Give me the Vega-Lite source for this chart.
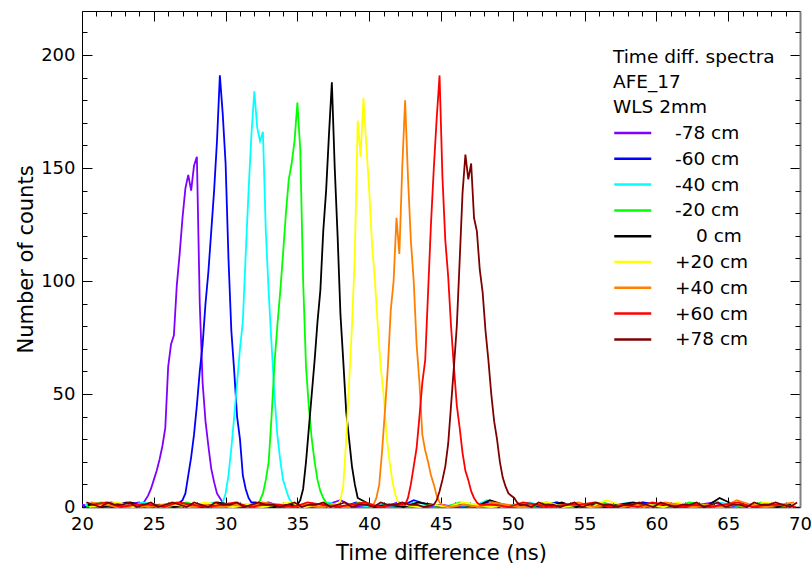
{
"$schema":"https://vega.github.io/schema/vega-lite/v6.json",
"width":718,"height":496,
"autosize":{"type":"none"},
"padding":{"left":82,"top":11,"right":12,"bottom":65},
"background":"white",
"config":{"view":{"stroke":null},"font":"DejaVu Sans","axis":{"grid":false}},
"data":{"values":[
{"p":"-78 cm","t":20,"n":1},{"p":"-78 cm","t":21,"n":0},{"p":"-78 cm","t":22,"n":2},{"p":"-78 cm","t":23,"n":1},
{"p":"-78 cm","t":24.0,"n":2},{"p":"-78 cm","t":24.2,"n":1},{"p":"-78 cm","t":24.4,"n":3},{"p":"-78 cm","t":24.6,"n":5},{"p":"-78 cm","t":24.8,"n":8},{"p":"-78 cm","t":25.0,"n":12},{"p":"-78 cm","t":25.2,"n":16},{"p":"-78 cm","t":25.4,"n":21},{"p":"-78 cm","t":25.6,"n":27},{"p":"-78 cm","t":25.8,"n":35},{"p":"-78 cm","t":26.0,"n":62},{"p":"-78 cm","t":26.2,"n":72},{"p":"-78 cm","t":26.4,"n":76},{"p":"-78 cm","t":26.6,"n":98},{"p":"-78 cm","t":26.8,"n":112},{"p":"-78 cm","t":27.0,"n":128},{"p":"-78 cm","t":27.2,"n":141},{"p":"-78 cm","t":27.4,"n":147},{"p":"-78 cm","t":27.6,"n":140},{"p":"-78 cm","t":27.8,"n":151},{"p":"-78 cm","t":28.0,"n":155},{"p":"-78 cm","t":28.2,"n":90},{"p":"-78 cm","t":28.4,"n":55},{"p":"-78 cm","t":28.6,"n":38},{"p":"-78 cm","t":28.8,"n":27},{"p":"-78 cm","t":29.0,"n":17},{"p":"-78 cm","t":29.2,"n":11},{"p":"-78 cm","t":29.4,"n":6},{"p":"-78 cm","t":29.6,"n":4},{"p":"-78 cm","t":29.8,"n":2},
{"p":"-78 cm","t":30,"n":1},{"p":"-78 cm","t":31,"n":0},{"p":"-78 cm","t":32,"n":1},{"p":"-78 cm","t":33,"n":2},{"p":"-78 cm","t":34,"n":0},{"p":"-78 cm","t":35,"n":1},{"p":"-78 cm","t":36,"n":0},{"p":"-78 cm","t":37,"n":1},{"p":"-78 cm","t":38,"n":3},{"p":"-78 cm","t":39,"n":0},{"p":"-78 cm","t":40,"n":1},{"p":"-78 cm","t":41,"n":0},{"p":"-78 cm","t":42,"n":2},{"p":"-78 cm","t":43,"n":1},{"p":"-78 cm","t":44,"n":0},{"p":"-78 cm","t":45,"n":1},{"p":"-78 cm","t":46,"n":0},{"p":"-78 cm","t":47,"n":0},{"p":"-78 cm","t":48,"n":2},{"p":"-78 cm","t":49,"n":1},{"p":"-78 cm","t":50,"n":0},{"p":"-78 cm","t":51,"n":1},{"p":"-78 cm","t":52,"n":0},{"p":"-78 cm","t":53,"n":2},{"p":"-78 cm","t":54,"n":1},{"p":"-78 cm","t":55,"n":0},{"p":"-78 cm","t":56,"n":1},{"p":"-78 cm","t":57,"n":1},{"p":"-78 cm","t":58,"n":0},{"p":"-78 cm","t":59,"n":2},{"p":"-78 cm","t":60,"n":0},{"p":"-78 cm","t":61,"n":1},{"p":"-78 cm","t":62,"n":0},{"p":"-78 cm","t":63,"n":1},{"p":"-78 cm","t":64,"n":2},{"p":"-78 cm","t":65,"n":0},{"p":"-78 cm","t":66,"n":1},{"p":"-78 cm","t":67,"n":0},{"p":"-78 cm","t":68,"n":1},{"p":"-78 cm","t":69,"n":0},
{"p":"-60 cm","t":20.1,"n":0},{"p":"-60 cm","t":21.1,"n":1},{"p":"-60 cm","t":22.1,"n":0},{"p":"-60 cm","t":23.1,"n":2},{"p":"-60 cm","t":24.1,"n":1},{"p":"-60 cm","t":25.1,"n":0},{"p":"-60 cm","t":26.1,"n":1},
{"p":"-60 cm","t":26.6,"n":1},{"p":"-60 cm","t":26.8,"n":2},{"p":"-60 cm","t":27.0,"n":3},{"p":"-60 cm","t":27.2,"n":6},{"p":"-60 cm","t":27.4,"n":14},{"p":"-60 cm","t":27.6,"n":22},{"p":"-60 cm","t":27.8,"n":32},{"p":"-60 cm","t":28.0,"n":45},{"p":"-60 cm","t":28.2,"n":60},{"p":"-60 cm","t":28.4,"n":72},{"p":"-60 cm","t":28.6,"n":90},{"p":"-60 cm","t":28.8,"n":104},{"p":"-60 cm","t":29.0,"n":122},{"p":"-60 cm","t":29.2,"n":140},{"p":"-60 cm","t":29.4,"n":162},{"p":"-60 cm","t":29.6,"n":191},{"p":"-60 cm","t":29.8,"n":174},{"p":"-60 cm","t":30.0,"n":152},{"p":"-60 cm","t":30.2,"n":110},{"p":"-60 cm","t":30.4,"n":78},{"p":"-60 cm","t":30.6,"n":60},{"p":"-60 cm","t":30.8,"n":40},{"p":"-60 cm","t":31.0,"n":30},{"p":"-60 cm","t":31.2,"n":14},{"p":"-60 cm","t":31.4,"n":8},{"p":"-60 cm","t":31.6,"n":4},{"p":"-60 cm","t":31.8,"n":2},
{"p":"-60 cm","t":32.1,"n":2},{"p":"-60 cm","t":33.1,"n":0},{"p":"-60 cm","t":34.1,"n":1},{"p":"-60 cm","t":35.1,"n":0},{"p":"-60 cm","t":36.1,"n":1},{"p":"-60 cm","t":37.1,"n":1},{"p":"-60 cm","t":38.1,"n":0},{"p":"-60 cm","t":39.1,"n":2},{"p":"-60 cm","t":40.1,"n":0},{"p":"-60 cm","t":41.1,"n":1},{"p":"-60 cm","t":42.1,"n":0},{"p":"-60 cm","t":43.1,"n":3},{"p":"-60 cm","t":44.1,"n":1},{"p":"-60 cm","t":45.1,"n":0},{"p":"-60 cm","t":46.1,"n":1},{"p":"-60 cm","t":47.1,"n":0},{"p":"-60 cm","t":48.1,"n":2},{"p":"-60 cm","t":49.1,"n":0},{"p":"-60 cm","t":50.1,"n":1},{"p":"-60 cm","t":51.1,"n":0},{"p":"-60 cm","t":52.1,"n":1},{"p":"-60 cm","t":53.1,"n":2},{"p":"-60 cm","t":54.1,"n":0},{"p":"-60 cm","t":55.1,"n":1},{"p":"-60 cm","t":56.1,"n":0},{"p":"-60 cm","t":57.1,"n":0},{"p":"-60 cm","t":58.1,"n":1},{"p":"-60 cm","t":59.1,"n":2},{"p":"-60 cm","t":60.1,"n":1},{"p":"-60 cm","t":61.1,"n":0},{"p":"-60 cm","t":62.1,"n":1},{"p":"-60 cm","t":63.1,"n":0},{"p":"-60 cm","t":64.1,"n":2},{"p":"-60 cm","t":65.1,"n":1},{"p":"-60 cm","t":66.1,"n":0},{"p":"-60 cm","t":67.1,"n":1},{"p":"-60 cm","t":68.1,"n":0},{"p":"-60 cm","t":69.1,"n":1},
{"p":"-40 cm","t":20.2,"n":1},{"p":"-40 cm","t":21.2,"n":0},{"p":"-40 cm","t":22.2,"n":1},{"p":"-40 cm","t":23.2,"n":0},{"p":"-40 cm","t":24.2,"n":2},{"p":"-40 cm","t":25.2,"n":1},{"p":"-40 cm","t":26.2,"n":0},{"p":"-40 cm","t":27.2,"n":1},{"p":"-40 cm","t":28.2,"n":0},{"p":"-40 cm","t":29.2,"n":2},
{"p":"-40 cm","t":29.6,"n":1},{"p":"-40 cm","t":29.8,"n":2},{"p":"-40 cm","t":30.0,"n":6},{"p":"-40 cm","t":30.2,"n":14},{"p":"-40 cm","t":30.4,"n":26},{"p":"-40 cm","t":30.6,"n":40},{"p":"-40 cm","t":30.8,"n":55},{"p":"-40 cm","t":31.0,"n":70},{"p":"-40 cm","t":31.2,"n":82},{"p":"-40 cm","t":31.4,"n":112},{"p":"-40 cm","t":31.6,"n":140},{"p":"-40 cm","t":31.8,"n":165},{"p":"-40 cm","t":32.0,"n":184},{"p":"-40 cm","t":32.2,"n":168},{"p":"-40 cm","t":32.4,"n":162},{"p":"-40 cm","t":32.6,"n":166},{"p":"-40 cm","t":32.8,"n":122},{"p":"-40 cm","t":33.0,"n":95},{"p":"-40 cm","t":33.2,"n":72},{"p":"-40 cm","t":33.4,"n":50},{"p":"-40 cm","t":33.6,"n":32},{"p":"-40 cm","t":33.8,"n":21},{"p":"-40 cm","t":34.0,"n":12},{"p":"-40 cm","t":34.2,"n":8},{"p":"-40 cm","t":34.4,"n":4},{"p":"-40 cm","t":34.6,"n":2},{"p":"-40 cm","t":34.8,"n":1},
{"p":"-40 cm","t":35.2,"n":0},{"p":"-40 cm","t":36.2,"n":1},{"p":"-40 cm","t":37.2,"n":2},{"p":"-40 cm","t":38.2,"n":0},{"p":"-40 cm","t":39.2,"n":1},{"p":"-40 cm","t":40.2,"n":0},{"p":"-40 cm","t":41.2,"n":1},{"p":"-40 cm","t":42.2,"n":0},{"p":"-40 cm","t":43.2,"n":2},{"p":"-40 cm","t":44.2,"n":1},{"p":"-40 cm","t":45.2,"n":0},{"p":"-40 cm","t":46.2,"n":1},{"p":"-40 cm","t":47.2,"n":0},{"p":"-40 cm","t":48.2,"n":3},{"p":"-40 cm","t":49.2,"n":0},{"p":"-40 cm","t":50.2,"n":1},{"p":"-40 cm","t":51.2,"n":2},{"p":"-40 cm","t":52.2,"n":0},{"p":"-40 cm","t":53.2,"n":1},{"p":"-40 cm","t":54.2,"n":0},{"p":"-40 cm","t":55.2,"n":1},{"p":"-40 cm","t":56.2,"n":0},{"p":"-40 cm","t":57.2,"n":1},{"p":"-40 cm","t":58.2,"n":2},{"p":"-40 cm","t":59.2,"n":0},{"p":"-40 cm","t":60.2,"n":1},{"p":"-40 cm","t":61.2,"n":0},{"p":"-40 cm","t":62.2,"n":1},{"p":"-40 cm","t":63.2,"n":0},{"p":"-40 cm","t":64.2,"n":2},{"p":"-40 cm","t":65.2,"n":1},{"p":"-40 cm","t":66.2,"n":0},{"p":"-40 cm","t":67.2,"n":1},{"p":"-40 cm","t":68.2,"n":0},{"p":"-40 cm","t":69.2,"n":1},
{"p":"-20 cm","t":20.3,"n":0},{"p":"-20 cm","t":21.3,"n":2},{"p":"-20 cm","t":22.3,"n":1},{"p":"-20 cm","t":23.3,"n":0},{"p":"-20 cm","t":24.3,"n":1},{"p":"-20 cm","t":25.3,"n":0},{"p":"-20 cm","t":26.3,"n":1},{"p":"-20 cm","t":27.3,"n":2},{"p":"-20 cm","t":28.3,"n":0},{"p":"-20 cm","t":29.3,"n":1},{"p":"-20 cm","t":30.3,"n":0},{"p":"-20 cm","t":31.3,"n":1},
{"p":"-20 cm","t":32.2,"n":1},{"p":"-20 cm","t":32.4,"n":3},{"p":"-20 cm","t":32.6,"n":6},{"p":"-20 cm","t":32.8,"n":12},{"p":"-20 cm","t":33.0,"n":20},{"p":"-20 cm","t":33.2,"n":40},{"p":"-20 cm","t":33.4,"n":63},{"p":"-20 cm","t":33.6,"n":80},{"p":"-20 cm","t":33.8,"n":95},{"p":"-20 cm","t":34.0,"n":112},{"p":"-20 cm","t":34.2,"n":130},{"p":"-20 cm","t":34.4,"n":145},{"p":"-20 cm","t":34.6,"n":152},{"p":"-20 cm","t":34.8,"n":162},{"p":"-20 cm","t":35.0,"n":179},{"p":"-20 cm","t":35.2,"n":158},{"p":"-20 cm","t":35.4,"n":100},{"p":"-20 cm","t":35.6,"n":62},{"p":"-20 cm","t":35.8,"n":44},{"p":"-20 cm","t":36.0,"n":30},{"p":"-20 cm","t":36.2,"n":20},{"p":"-20 cm","t":36.4,"n":12},{"p":"-20 cm","t":36.6,"n":7},{"p":"-20 cm","t":36.8,"n":4},{"p":"-20 cm","t":37.0,"n":2},
{"p":"-20 cm","t":37.3,"n":1},{"p":"-20 cm","t":38.3,"n":0},{"p":"-20 cm","t":39.3,"n":2},{"p":"-20 cm","t":40.3,"n":0},{"p":"-20 cm","t":41.3,"n":1},{"p":"-20 cm","t":42.3,"n":1},{"p":"-20 cm","t":43.3,"n":0},{"p":"-20 cm","t":44.3,"n":1},{"p":"-20 cm","t":45.3,"n":0},{"p":"-20 cm","t":46.3,"n":2},{"p":"-20 cm","t":47.3,"n":1},{"p":"-20 cm","t":48.3,"n":0},{"p":"-20 cm","t":49.3,"n":1},{"p":"-20 cm","t":50.3,"n":0},{"p":"-20 cm","t":51.3,"n":0},{"p":"-20 cm","t":52.3,"n":2},{"p":"-20 cm","t":53.3,"n":1},{"p":"-20 cm","t":54.3,"n":0},{"p":"-20 cm","t":55.3,"n":1},{"p":"-20 cm","t":56.3,"n":2},{"p":"-20 cm","t":57.3,"n":0},{"p":"-20 cm","t":58.3,"n":1},{"p":"-20 cm","t":59.3,"n":0},{"p":"-20 cm","t":60.3,"n":1},{"p":"-20 cm","t":61.3,"n":0},{"p":"-20 cm","t":62.3,"n":2},{"p":"-20 cm","t":63.3,"n":1},{"p":"-20 cm","t":64.3,"n":0},{"p":"-20 cm","t":65.3,"n":1},{"p":"-20 cm","t":66.3,"n":0},{"p":"-20 cm","t":67.3,"n":2},{"p":"-20 cm","t":68.3,"n":0},{"p":"-20 cm","t":69.3,"n":1},
{"p":"0 cm","t":20.4,"n":1},{"p":"0 cm","t":21.4,"n":0},{"p":"0 cm","t":22.4,"n":1},{"p":"0 cm","t":23.4,"n":2},{"p":"0 cm","t":24.4,"n":0},{"p":"0 cm","t":25.4,"n":1},{"p":"0 cm","t":26.4,"n":0},{"p":"0 cm","t":27.4,"n":1},{"p":"0 cm","t":28.4,"n":0},{"p":"0 cm","t":29.4,"n":2},{"p":"0 cm","t":30.4,"n":1},{"p":"0 cm","t":31.4,"n":0},{"p":"0 cm","t":32.4,"n":1},{"p":"0 cm","t":33.4,"n":0},{"p":"0 cm","t":34.4,"n":1},
{"p":"0 cm","t":35.0,"n":1},{"p":"0 cm","t":35.2,"n":3},{"p":"0 cm","t":35.4,"n":8},{"p":"0 cm","t":35.6,"n":20},{"p":"0 cm","t":35.8,"n":35},{"p":"0 cm","t":36.0,"n":50},{"p":"0 cm","t":36.2,"n":65},{"p":"0 cm","t":36.4,"n":82},{"p":"0 cm","t":36.6,"n":96},{"p":"0 cm","t":36.8,"n":122},{"p":"0 cm","t":37.0,"n":140},{"p":"0 cm","t":37.2,"n":165},{"p":"0 cm","t":37.4,"n":188},{"p":"0 cm","t":37.6,"n":150},{"p":"0 cm","t":37.8,"n":120},{"p":"0 cm","t":38.0,"n":85},{"p":"0 cm","t":38.2,"n":64},{"p":"0 cm","t":38.4,"n":42},{"p":"0 cm","t":38.6,"n":30},{"p":"0 cm","t":38.8,"n":18},{"p":"0 cm","t":39.0,"n":10},{"p":"0 cm","t":39.2,"n":4},
{"p":"0 cm","t":40.4,"n":0},{"p":"0 cm","t":41.4,"n":1},{"p":"0 cm","t":42.4,"n":0},{"p":"0 cm","t":43.4,"n":2},{"p":"0 cm","t":44.4,"n":1},{"p":"0 cm","t":45.4,"n":0},{"p":"0 cm","t":46.4,"n":1},{"p":"0 cm","t":47.4,"n":0},{"p":"0 cm","t":48.4,"n":3},{"p":"0 cm","t":49.4,"n":1},{"p":"0 cm","t":50.4,"n":0},{"p":"0 cm","t":51.4,"n":1},{"p":"0 cm","t":52.4,"n":0},{"p":"0 cm","t":53.4,"n":2},{"p":"0 cm","t":54.4,"n":0},{"p":"0 cm","t":55.4,"n":1},{"p":"0 cm","t":56.4,"n":0},{"p":"0 cm","t":57.4,"n":1},{"p":"0 cm","t":58.4,"n":2},{"p":"0 cm","t":59.4,"n":0},{"p":"0 cm","t":60.4,"n":1},{"p":"0 cm","t":61.4,"n":0},{"p":"0 cm","t":62.4,"n":1},{"p":"0 cm","t":63.4,"n":0},{"p":"0 cm","t":64.4,"n":4},{"p":"0 cm","t":65.4,"n":1},{"p":"0 cm","t":66.4,"n":0},{"p":"0 cm","t":67.4,"n":1},{"p":"0 cm","t":68.4,"n":0},{"p":"0 cm","t":69.4,"n":1},
{"p":"+20 cm","t":20.5,"n":0},{"p":"+20 cm","t":21.5,"n":1},{"p":"+20 cm","t":22.5,"n":2},{"p":"+20 cm","t":23.5,"n":0},{"p":"+20 cm","t":24.5,"n":1},{"p":"+20 cm","t":25.5,"n":0},{"p":"+20 cm","t":26.5,"n":1},{"p":"+20 cm","t":27.5,"n":0},{"p":"+20 cm","t":28.5,"n":2},{"p":"+20 cm","t":29.5,"n":1},{"p":"+20 cm","t":30.5,"n":0},{"p":"+20 cm","t":31.5,"n":1},{"p":"+20 cm","t":32.5,"n":0},{"p":"+20 cm","t":33.5,"n":1},{"p":"+20 cm","t":34.5,"n":2},{"p":"+20 cm","t":35.5,"n":0},{"p":"+20 cm","t":36.5,"n":1},{"p":"+20 cm","t":37.5,"n":0},
{"p":"+20 cm","t":37.8,"n":1},{"p":"+20 cm","t":38.0,"n":3},{"p":"+20 cm","t":38.2,"n":10},{"p":"+20 cm","t":38.4,"n":30},{"p":"+20 cm","t":38.6,"n":55},{"p":"+20 cm","t":38.8,"n":80},{"p":"+20 cm","t":39.0,"n":112},{"p":"+20 cm","t":39.2,"n":171},{"p":"+20 cm","t":39.4,"n":155},{"p":"+20 cm","t":39.6,"n":181},{"p":"+20 cm","t":39.8,"n":160},{"p":"+20 cm","t":40.0,"n":140},{"p":"+20 cm","t":40.2,"n":116},{"p":"+20 cm","t":40.4,"n":100},{"p":"+20 cm","t":40.6,"n":80},{"p":"+20 cm","t":40.8,"n":62},{"p":"+20 cm","t":41.0,"n":50},{"p":"+20 cm","t":41.2,"n":32},{"p":"+20 cm","t":41.4,"n":21},{"p":"+20 cm","t":41.6,"n":12},{"p":"+20 cm","t":41.8,"n":6},{"p":"+20 cm","t":42.0,"n":2},{"p":"+20 cm","t":42.2,"n":1},
{"p":"+20 cm","t":42.5,"n":1},{"p":"+20 cm","t":43.5,"n":0},{"p":"+20 cm","t":44.5,"n":1},{"p":"+20 cm","t":45.5,"n":0},{"p":"+20 cm","t":46.5,"n":2},{"p":"+20 cm","t":47.5,"n":1},{"p":"+20 cm","t":48.5,"n":0},{"p":"+20 cm","t":49.5,"n":1},{"p":"+20 cm","t":50.5,"n":0},{"p":"+20 cm","t":51.5,"n":1},{"p":"+20 cm","t":52.5,"n":2},{"p":"+20 cm","t":53.5,"n":0},{"p":"+20 cm","t":54.5,"n":1},{"p":"+20 cm","t":55.5,"n":0},{"p":"+20 cm","t":56.5,"n":3},{"p":"+20 cm","t":57.5,"n":1},{"p":"+20 cm","t":58.5,"n":0},{"p":"+20 cm","t":59.5,"n":1},{"p":"+20 cm","t":60.5,"n":0},{"p":"+20 cm","t":61.5,"n":2},{"p":"+20 cm","t":62.5,"n":0},{"p":"+20 cm","t":63.5,"n":1},{"p":"+20 cm","t":64.5,"n":0},{"p":"+20 cm","t":65.5,"n":1},{"p":"+20 cm","t":66.5,"n":0},{"p":"+20 cm","t":67.5,"n":2},{"p":"+20 cm","t":68.5,"n":1},{"p":"+20 cm","t":69.5,"n":0},
{"p":"+40 cm","t":20.6,"n":2},{"p":"+40 cm","t":21.6,"n":1},{"p":"+40 cm","t":22.6,"n":0},{"p":"+40 cm","t":23.6,"n":1},{"p":"+40 cm","t":24.6,"n":0},{"p":"+40 cm","t":25.6,"n":1},{"p":"+40 cm","t":26.6,"n":2},{"p":"+40 cm","t":27.6,"n":0},{"p":"+40 cm","t":28.6,"n":1},{"p":"+40 cm","t":29.6,"n":0},{"p":"+40 cm","t":30.6,"n":1},{"p":"+40 cm","t":31.6,"n":0},{"p":"+40 cm","t":32.6,"n":2},{"p":"+40 cm","t":33.6,"n":1},{"p":"+40 cm","t":34.6,"n":0},{"p":"+40 cm","t":35.6,"n":1},{"p":"+40 cm","t":36.6,"n":0},{"p":"+40 cm","t":37.6,"n":1},{"p":"+40 cm","t":38.6,"n":0},{"p":"+40 cm","t":39.6,"n":2},
{"p":"+40 cm","t":40.3,"n":1},{"p":"+40 cm","t":40.5,"n":4},{"p":"+40 cm","t":40.7,"n":10},{"p":"+40 cm","t":40.9,"n":25},{"p":"+40 cm","t":41.1,"n":43},{"p":"+40 cm","t":41.3,"n":62},{"p":"+40 cm","t":41.5,"n":87},{"p":"+40 cm","t":41.7,"n":100},{"p":"+40 cm","t":41.9,"n":128},{"p":"+40 cm","t":42.1,"n":112},{"p":"+40 cm","t":42.3,"n":150},{"p":"+40 cm","t":42.5,"n":180},{"p":"+40 cm","t":42.7,"n":146},{"p":"+40 cm","t":42.9,"n":118},{"p":"+40 cm","t":43.1,"n":100},{"p":"+40 cm","t":43.3,"n":72},{"p":"+40 cm","t":43.5,"n":55},{"p":"+40 cm","t":43.7,"n":32},{"p":"+40 cm","t":43.9,"n":25},{"p":"+40 cm","t":44.1,"n":20},{"p":"+40 cm","t":44.3,"n":14},{"p":"+40 cm","t":44.5,"n":10},{"p":"+40 cm","t":44.7,"n":5},{"p":"+40 cm","t":44.9,"n":2},{"p":"+40 cm","t":45.1,"n":1},
{"p":"+40 cm","t":45.6,"n":0},{"p":"+40 cm","t":46.6,"n":1},{"p":"+40 cm","t":47.6,"n":0},{"p":"+40 cm","t":48.6,"n":2},{"p":"+40 cm","t":49.6,"n":1},{"p":"+40 cm","t":50.6,"n":0},{"p":"+40 cm","t":51.6,"n":1},{"p":"+40 cm","t":52.6,"n":0},{"p":"+40 cm","t":53.6,"n":1},{"p":"+40 cm","t":54.6,"n":2},{"p":"+40 cm","t":55.6,"n":0},{"p":"+40 cm","t":56.6,"n":1},{"p":"+40 cm","t":57.6,"n":0},{"p":"+40 cm","t":58.6,"n":1},{"p":"+40 cm","t":59.6,"n":0},{"p":"+40 cm","t":60.6,"n":2},{"p":"+40 cm","t":61.6,"n":1},{"p":"+40 cm","t":62.6,"n":0},{"p":"+40 cm","t":63.6,"n":1},{"p":"+40 cm","t":64.6,"n":0},{"p":"+40 cm","t":65.6,"n":3},{"p":"+40 cm","t":66.6,"n":1},{"p":"+40 cm","t":67.6,"n":0},{"p":"+40 cm","t":68.6,"n":1},{"p":"+40 cm","t":69.6,"n":2},
{"p":"+60 cm","t":20.7,"n":1},{"p":"+60 cm","t":21.7,"n":2},{"p":"+60 cm","t":22.7,"n":0},{"p":"+60 cm","t":23.7,"n":1},{"p":"+60 cm","t":24.7,"n":1},{"p":"+60 cm","t":25.7,"n":0},{"p":"+60 cm","t":26.7,"n":2},{"p":"+60 cm","t":27.7,"n":1},{"p":"+60 cm","t":28.7,"n":0},{"p":"+60 cm","t":29.7,"n":1},{"p":"+60 cm","t":30.7,"n":2},{"p":"+60 cm","t":31.7,"n":0},{"p":"+60 cm","t":32.7,"n":1},{"p":"+60 cm","t":33.7,"n":1},{"p":"+60 cm","t":34.7,"n":0},{"p":"+60 cm","t":35.7,"n":2},{"p":"+60 cm","t":36.7,"n":1},{"p":"+60 cm","t":37.7,"n":0},{"p":"+60 cm","t":38.7,"n":1},{"p":"+60 cm","t":39.7,"n":2},{"p":"+60 cm","t":40.7,"n":0},{"p":"+60 cm","t":41.7,"n":1},
{"p":"+60 cm","t":42.5,"n":1},{"p":"+60 cm","t":42.7,"n":4},{"p":"+60 cm","t":42.9,"n":10},{"p":"+60 cm","t":43.1,"n":18},{"p":"+60 cm","t":43.3,"n":26},{"p":"+60 cm","t":43.5,"n":40},{"p":"+60 cm","t":43.7,"n":55},{"p":"+60 cm","t":43.9,"n":65},{"p":"+60 cm","t":44.1,"n":95},{"p":"+60 cm","t":44.3,"n":125},{"p":"+60 cm","t":44.5,"n":150},{"p":"+60 cm","t":44.7,"n":172},{"p":"+60 cm","t":44.9,"n":191},{"p":"+60 cm","t":45.1,"n":146},{"p":"+60 cm","t":45.3,"n":118},{"p":"+60 cm","t":45.5,"n":102},{"p":"+60 cm","t":45.7,"n":80},{"p":"+60 cm","t":45.9,"n":62},{"p":"+60 cm","t":46.1,"n":45},{"p":"+60 cm","t":46.3,"n":35},{"p":"+60 cm","t":46.5,"n":24},{"p":"+60 cm","t":46.7,"n":16},{"p":"+60 cm","t":46.9,"n":12},{"p":"+60 cm","t":47.1,"n":7},{"p":"+60 cm","t":47.3,"n":4},{"p":"+60 cm","t":47.5,"n":2},{"p":"+60 cm","t":47.7,"n":1},
{"p":"+60 cm","t":48.7,"n":1},{"p":"+60 cm","t":49.7,"n":0},{"p":"+60 cm","t":50.7,"n":2},{"p":"+60 cm","t":51.7,"n":1},{"p":"+60 cm","t":52.7,"n":0},{"p":"+60 cm","t":53.7,"n":1},{"p":"+60 cm","t":54.7,"n":1},{"p":"+60 cm","t":55.7,"n":2},{"p":"+60 cm","t":56.7,"n":0},{"p":"+60 cm","t":57.7,"n":1},{"p":"+60 cm","t":58.7,"n":0},{"p":"+60 cm","t":59.7,"n":2},{"p":"+60 cm","t":60.7,"n":1},{"p":"+60 cm","t":61.7,"n":0},{"p":"+60 cm","t":62.7,"n":1},{"p":"+60 cm","t":63.7,"n":0},{"p":"+60 cm","t":64.7,"n":1},{"p":"+60 cm","t":65.7,"n":2},{"p":"+60 cm","t":66.7,"n":0},{"p":"+60 cm","t":67.7,"n":1},{"p":"+60 cm","t":68.7,"n":1},{"p":"+60 cm","t":69.7,"n":0},
{"p":"+78 cm","t":20.3,"n":2},{"p":"+78 cm","t":20.8,"n":1},{"p":"+78 cm","t":21.3,"n":0},{"p":"+78 cm","t":21.8,"n":2},{"p":"+78 cm","t":22.3,"n":1},{"p":"+78 cm","t":22.8,"n":1},{"p":"+78 cm","t":23.3,"n":2},{"p":"+78 cm","t":23.8,"n":0},{"p":"+78 cm","t":24.3,"n":1},{"p":"+78 cm","t":24.8,"n":2},{"p":"+78 cm","t":25.3,"n":0},{"p":"+78 cm","t":25.8,"n":1},{"p":"+78 cm","t":26.3,"n":2},{"p":"+78 cm","t":26.8,"n":1},{"p":"+78 cm","t":27.3,"n":0},{"p":"+78 cm","t":27.8,"n":2},{"p":"+78 cm","t":28.3,"n":1},{"p":"+78 cm","t":28.8,"n":0},{"p":"+78 cm","t":29.3,"n":2},{"p":"+78 cm","t":29.8,"n":1},{"p":"+78 cm","t":30.3,"n":1},{"p":"+78 cm","t":30.8,"n":2},{"p":"+78 cm","t":31.3,"n":0},{"p":"+78 cm","t":31.8,"n":1},{"p":"+78 cm","t":32.3,"n":2},{"p":"+78 cm","t":32.8,"n":1},{"p":"+78 cm","t":33.3,"n":1},{"p":"+78 cm","t":33.8,"n":0},{"p":"+78 cm","t":34.3,"n":1},{"p":"+78 cm","t":34.8,"n":2},{"p":"+78 cm","t":35.3,"n":0},{"p":"+78 cm","t":35.8,"n":1},{"p":"+78 cm","t":36.3,"n":1},{"p":"+78 cm","t":36.8,"n":2},{"p":"+78 cm","t":37.3,"n":0},{"p":"+78 cm","t":37.8,"n":1},{"p":"+78 cm","t":38.3,"n":2},{"p":"+78 cm","t":38.8,"n":0},{"p":"+78 cm","t":39.3,"n":1},{"p":"+78 cm","t":39.8,"n":1},{"p":"+78 cm","t":40.3,"n":0},{"p":"+78 cm","t":40.8,"n":2},{"p":"+78 cm","t":41.3,"n":1},{"p":"+78 cm","t":41.8,"n":1},{"p":"+78 cm","t":42.3,"n":2},{"p":"+78 cm","t":42.8,"n":1},{"p":"+78 cm","t":43.3,"n":1},{"p":"+78 cm","t":43.8,"n":0},
{"p":"+78 cm","t":44.5,"n":1},{"p":"+78 cm","t":44.7,"n":3},{"p":"+78 cm","t":44.9,"n":7},{"p":"+78 cm","t":45.1,"n":12},{"p":"+78 cm","t":45.3,"n":18},{"p":"+78 cm","t":45.5,"n":28},{"p":"+78 cm","t":45.7,"n":45},{"p":"+78 cm","t":45.9,"n":62},{"p":"+78 cm","t":46.1,"n":80},{"p":"+78 cm","t":46.3,"n":109},{"p":"+78 cm","t":46.5,"n":139},{"p":"+78 cm","t":46.7,"n":156},{"p":"+78 cm","t":46.9,"n":145},{"p":"+78 cm","t":47.1,"n":152},{"p":"+78 cm","t":47.3,"n":128},{"p":"+78 cm","t":47.5,"n":122},{"p":"+78 cm","t":47.7,"n":105},{"p":"+78 cm","t":47.9,"n":95},{"p":"+78 cm","t":48.1,"n":78},{"p":"+78 cm","t":48.3,"n":65},{"p":"+78 cm","t":48.5,"n":50},{"p":"+78 cm","t":48.7,"n":38},{"p":"+78 cm","t":48.9,"n":30},{"p":"+78 cm","t":49.1,"n":20},{"p":"+78 cm","t":49.3,"n":13},{"p":"+78 cm","t":49.5,"n":9},{"p":"+78 cm","t":49.7,"n":6},{"p":"+78 cm","t":49.9,"n":5},{"p":"+78 cm","t":50.1,"n":4},{"p":"+78 cm","t":50.3,"n":2},{"p":"+78 cm","t":50.5,"n":1},
{"p":"+78 cm","t":50.8,"n":1},{"p":"+78 cm","t":51.3,"n":0},{"p":"+78 cm","t":51.8,"n":2},{"p":"+78 cm","t":52.3,"n":1},{"p":"+78 cm","t":52.8,"n":1},{"p":"+78 cm","t":53.3,"n":0},{"p":"+78 cm","t":53.8,"n":1},{"p":"+78 cm","t":54.3,"n":2},{"p":"+78 cm","t":54.8,"n":0},{"p":"+78 cm","t":55.3,"n":1},{"p":"+78 cm","t":55.8,"n":2},{"p":"+78 cm","t":56.3,"n":1},{"p":"+78 cm","t":56.8,"n":1},{"p":"+78 cm","t":57.3,"n":0},{"p":"+78 cm","t":57.8,"n":1},{"p":"+78 cm","t":58.3,"n":1},{"p":"+78 cm","t":58.8,"n":2},{"p":"+78 cm","t":59.3,"n":1},{"p":"+78 cm","t":59.8,"n":0},{"p":"+78 cm","t":60.3,"n":2},{"p":"+78 cm","t":60.8,"n":1},{"p":"+78 cm","t":61.3,"n":0},{"p":"+78 cm","t":61.8,"n":1},{"p":"+78 cm","t":62.3,"n":1},{"p":"+78 cm","t":62.8,"n":2},{"p":"+78 cm","t":63.3,"n":0},{"p":"+78 cm","t":63.8,"n":1},{"p":"+78 cm","t":64.3,"n":2},{"p":"+78 cm","t":64.8,"n":0},{"p":"+78 cm","t":65.3,"n":1},{"p":"+78 cm","t":65.8,"n":1},{"p":"+78 cm","t":66.3,"n":0},{"p":"+78 cm","t":66.8,"n":2},{"p":"+78 cm","t":67.3,"n":1},{"p":"+78 cm","t":67.8,"n":1},{"p":"+78 cm","t":68.3,"n":2},{"p":"+78 cm","t":68.8,"n":1},{"p":"+78 cm","t":69.3,"n":0},{"p":"+78 cm","t":69.8,"n":2}
]},
"resolve":{"axis":{"x":"independent","y":"independent"}},
"layer":[
{"mark":{"type":"line","strokeWidth":1.8,"interpolate":"linear"},
 "encoding":{
  "x":{"field":"t","type":"quantitative","scale":{"domain":[20,70],"nice":false,"zero":false},
       "axis":{"orient":"bottom","values":[20,25,30,35,40,45,50,55,60,65,70],"ticks":false,"domainColor":"#808080","domainWidth":2,"labelFontSize":18,"labelColor":"#000","labelPadding":8,"labelFlush":false,"labelOverlap":false,"title":"Time difference (ns)","titleFontSize":21,"titleFontWeight":"normal","titleColor":"#000","titlePadding":9}},
  "y":{"field":"n","type":"quantitative","scale":{"domain":[0,219.5],"nice":false},
       "axis":{"orient":"left","values":[0,50,100,150,200],"ticks":false,"domainColor":"#000","domainWidth":1,"labelFontSize":18,"labelColor":"#000","labelPadding":7,"labelFlush":false,"labelOverlap":false,"title":"Number of counts","titleFontSize":21,"titleFontWeight":"normal","titleColor":"#000","titlePadding":4}},
  "color":{"field":"p","type":"nominal",
       "scale":{"domain":["-78 cm","-60 cm","-40 cm","-20 cm","0 cm","+20 cm","+40 cm","+60 cm","+78 cm"],"range":["#8000ff","#0000ff","#00ffff","#00ff00","#000000","#ffff00","#ff8000","#ff0000","#800000"]},
       "legend":{"orient":"none","legendX":531,"legendY":37,"padding":0,"title":["Time diff. spectra","AFE_17","WLS 2mm"],"titleFontSize":18.5,"titleFontWeight":"normal","titleColor":"#000","titleLineHeight":25,"titleAlign":"left","titleAnchor":"start","titlePadding":6,"labelFontSize":18.5,"labelColor":"#000","symbolType":"M-1,0H3","symbolStrokeWidth":2.5,"symbolSize":342,"rowPadding":5.8,"labelOffset":41,
         "encode":{"labels":{"update":{"dx":{"signal":"datum.value === '0 cm' ? 21 : 0"}}}}}}
 }},
{"mark":{"type":"point","opacity":0},
 "encoding":{
  "x":{"field":"t","type":"quantitative","axis":{"orient":"bottom","values":[20,25,30,35,40,45,50,55,60,65,70],"labels":false,"domain":false,"title":null,"tickSize":-10,"tickColor":"#000","tickWidth":1}},
  "y":{"field":"n","type":"quantitative","axis":{"orient":"left","values":[0,50,100,150,200],"labels":false,"domain":false,"title":null,"tickSize":-10,"tickColor":"#000","tickWidth":1}}
 }},
{"mark":{"type":"point","opacity":0},
 "encoding":{
  "x":{"field":"t","type":"quantitative","axis":{"orient":"bottom","values":[21,22,23,24,26,27,28,29,31,32,33,34,36,37,38,39,41,42,43,44,46,47,48,49,51,52,53,54,56,57,58,59,61,62,63,64,66,67,68,69],"labels":false,"domain":false,"title":null,"tickSize":-5,"tickColor":"#000","tickWidth":1}},
  "y":{"field":"n","type":"quantitative","axis":{"orient":"left","values":[10,20,30,40,60,70,80,90,110,120,130,140,160,170,180,190,210],"labels":false,"domain":false,"title":null,"tickSize":-5,"tickColor":"#000","tickWidth":1}}
 }},
{"mark":{"type":"point","opacity":0},
 "encoding":{
  "x":{"field":"t","type":"quantitative","axis":{"orient":"top","values":[20,25,30,35,40,45,50,55,60,65,70],"labels":false,"domain":true,"domainColor":"#000","domainWidth":1,"title":null,"tickSize":-10,"tickColor":"#000","tickWidth":1}},
  "y":{"field":"n","type":"quantitative","axis":{"orient":"right","values":[0,50,100,150,200],"labels":false,"domain":true,"domainColor":"#808080","domainWidth":2,"title":null,"tickSize":-10,"tickColor":"#000","tickWidth":1}}
 }},
{"mark":{"type":"point","opacity":0},
 "encoding":{
  "x":{"field":"t","type":"quantitative","axis":{"orient":"top","values":[21,22,23,24,26,27,28,29,31,32,33,34,36,37,38,39,41,42,43,44,46,47,48,49,51,52,53,54,56,57,58,59,61,62,63,64,66,67,68,69],"labels":false,"domain":false,"title":null,"tickSize":-5,"tickColor":"#000","tickWidth":1}},
  "y":{"field":"n","type":"quantitative","axis":{"orient":"right","values":[10,20,30,40,60,70,80,90,110,120,130,140,160,170,180,190,210],"labels":false,"domain":false,"title":null,"tickSize":-5,"tickColor":"#000","tickWidth":1}}
 }}
]
}
